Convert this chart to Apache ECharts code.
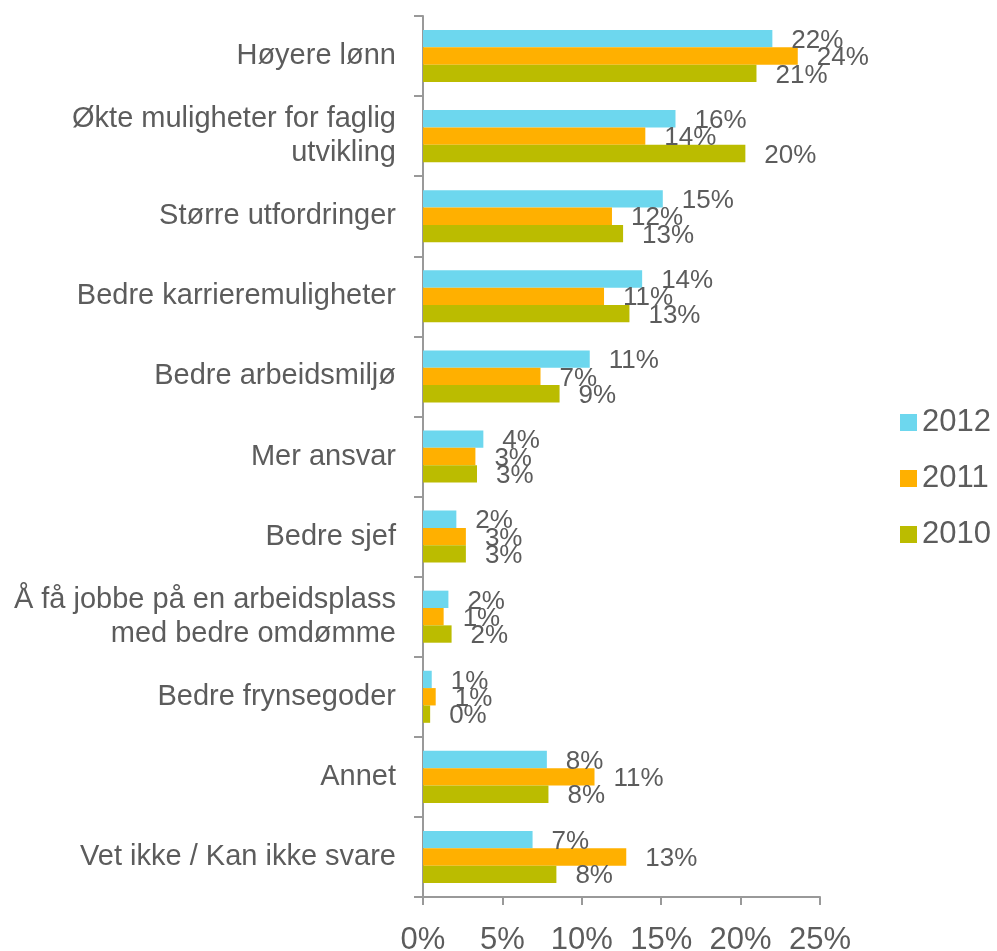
<!DOCTYPE html>
<html>
<head>
<meta charset="utf-8">
<script src="https://cdn.jsdelivr.net/npm/echarts@6/dist/echarts.min.js"></script>
<style>
  html, body { margin: 0; padding: 0; background: #fff; }
  #chart { width: 997px; height: 951px; }
</style>
</head>
<body>
<div id="chart"></div>
<script>
const categories = [
  'Høyere lønn',
  'Økte muligheter for faglig\nutvikling',
  'Større utfordringer',
  'Bedre karrieremuligheter',
  'Bedre arbeidsmiljø',
  'Mer ansvar',
  'Bedre sjef',
  'Å få jobbe på en arbeidsplass\nmed bedre omdømme',
  'Bedre frynsegoder',
  'Annet',
  'Vet ikke / Kan ikke svare'
];
const v2012 = [22.0, 15.9, 15.1, 13.8, 10.5, 3.8, 2.1, 1.6, 0.55, 7.8, 6.9];
const v2011 = [23.6, 14.0, 11.9, 11.4, 7.4, 3.3, 2.7, 1.3, 0.8, 10.8, 12.8];
const v2010 = [21.0, 20.3, 12.6, 13.0, 8.6, 3.4, 2.7, 1.8, 0.45, 7.9, 8.4];
const xTicks = [0, 5, 10, 15, 20, 25];

const font = 'Liberation Sans, Arial, sans-serif';
const textColor = '#5c5c5c';

const chart = echarts.init(document.getElementById('chart'));

const mkSeries = (name, data, color) => ({
  name: name,
  type: 'bar',
  data: data,
  barGap: '0%',
  barCategoryGap: '35%',
  itemStyle: { color: color },
  label: {
    show: true,
    position: 'right',
    distance: 19,
    offset: [0, 2],
    color: textColor,
    fontFamily: font,
    fontSize: 26,
    formatter: p => Math.round(p.value) + '%'
  }
});

chart.setOption({
  animation: false,
  backgroundColor: '#fff',
  grid: {
    left: 423, top: 16, width: 397, height: 881,
    containLabel: false,
    outerBoundsMode: 'none'
  },
  legend: {
    orient: 'vertical',
    left: 900,
    top: 407,
    padding: 0,
    itemWidth: 17,
    itemHeight: 17,
    itemGap: 25,
    icon: 'rect',
    textStyle: { color: textColor, fontFamily: font, fontSize: 31, lineHeight: 31 },
    data: ['2012', '2011', '2010']
  },
  xAxis: {
    type: 'value',
    min: xTicks[0],
    max: xTicks[xTicks.length - 1],
    interval: 5,
    axisLine: { show: true, lineStyle: { color: '#999', width: 2 } },
    axisTick: { show: true, length: 8, lineStyle: { color: '#999', width: 2 } },
    splitLine: { show: false },
    axisLabel: {
      color: textColor,
      fontFamily: font,
      fontSize: 31,
      margin: 28,
      formatter: v => v + '%'
    }
  },
  yAxis: {
    type: 'category',
    inverse: true,
    data: categories,
    axisLine: { show: true, lineStyle: { color: '#999', width: 2 } },
    axisTick: { show: true, length: 9, lineStyle: { color: '#999', width: 2 } },
    axisLabel: {
      color: textColor,
      fontFamily: font,
      fontSize: 29,
      lineHeight: 34,
      margin: 27,
      align: 'right'
    }
  },
  series: [
    mkSeries('2012', v2012, '#6dd7ee'),
    mkSeries('2011', v2011, '#ffb000'),
    mkSeries('2010', v2010, '#bbbc00')
  ]
});
</script>
</body>
</html>
